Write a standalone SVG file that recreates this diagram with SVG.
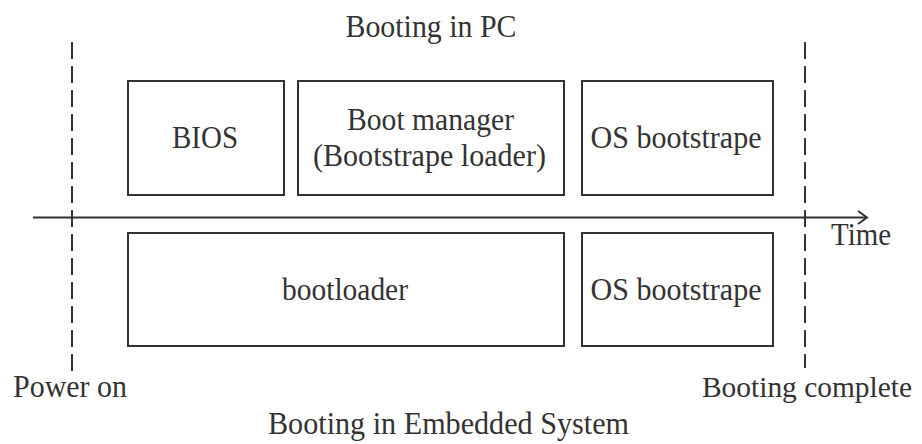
<svg xmlns="http://www.w3.org/2000/svg" width="922" height="444" viewBox="0 0 922 444">
<style>
.box{fill:none;stroke:#333;stroke-width:2}
.dash{stroke:#333;stroke-width:2;stroke-dasharray:17 7;fill:none}
.axis{stroke:#333;stroke-width:2;fill:none}
text{font-family:"Liberation Serif","Times New Roman",serif;font-size:32px;fill:#333}
.m{text-anchor:middle}
</style>
<rect width="922" height="444" fill="#fff"/>
<g id="connectors">
<line class="dash" x1="72" y1="42" x2="72" y2="373"/>
<line class="dash" x1="805" y1="42" x2="805" y2="368"/>
<line class="axis" x1="33" y1="217.5" x2="866" y2="217.5"/>
<polyline class="axis" points="858,211 867,217.5 858,224"/>
</g>
<g id="title-pc"><text class="m" x="431" y="37" textLength="171" lengthAdjust="spacingAndGlyphs">Booting in PC</text></g>
<g id="bios"><rect class="box" x="128" y="81" width="156" height="114"/><text class="m" x="205" y="148" textLength="66" lengthAdjust="spacingAndGlyphs">BIOS</text></g>
<g id="bootmgr"><rect class="box" x="298" y="81" width="266" height="114"/><text class="m" x="430.5" y="130" textLength="167" lengthAdjust="spacingAndGlyphs">Boot manager</text><text class="m" x="429.5" y="166" textLength="233" lengthAdjust="spacingAndGlyphs">(Bootstrape loader)</text></g>
<g id="os-pc"><rect class="box" x="582" y="81" width="191" height="114"/><text class="m" x="676" y="148" textLength="171" lengthAdjust="spacingAndGlyphs">OS bootstrape</text></g>
<g id="time"><text x="831" y="245" textLength="60" lengthAdjust="spacingAndGlyphs">Time</text></g>
<g id="bootloader"><rect class="box" x="128" y="233" width="436" height="113"/><text class="m" x="345" y="300" textLength="126" lengthAdjust="spacingAndGlyphs">bootloader</text></g>
<g id="os-emb"><rect class="box" x="582" y="233" width="191" height="113"/><text class="m" x="676" y="300" textLength="171" lengthAdjust="spacingAndGlyphs">OS bootstrape</text></g>
<g id="power-on"><text x="13" y="397" textLength="114" lengthAdjust="spacingAndGlyphs">Power on</text></g>
<g id="booting-complete"><text x="702" y="397" style="font-size:29px" textLength="210" lengthAdjust="spacingAndGlyphs">Booting complete</text></g>
<g id="title-emb"><text class="m" x="448.5" y="434" textLength="361" lengthAdjust="spacingAndGlyphs">Booting in Embedded System</text></g>
</svg>
